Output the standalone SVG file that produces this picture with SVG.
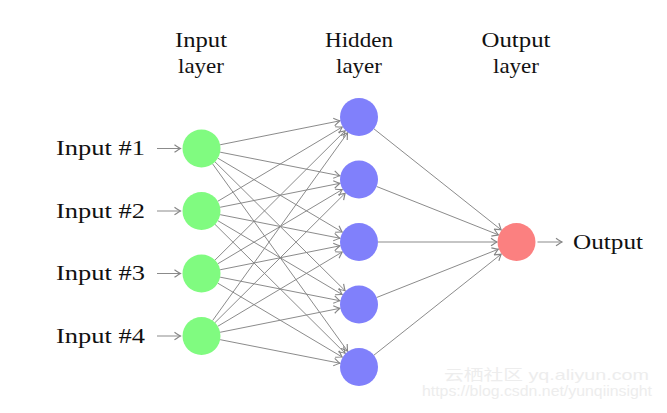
<svg xmlns="http://www.w3.org/2000/svg" width="667" height="413" viewBox="0 0 667 413">
<style>
.lbl{font-family:"Liberation Serif","DejaVu Serif",serif;font-size:22px;fill:#111111}
.hdr{font-family:"Liberation Serif","DejaVu Serif",serif;font-size:22px;fill:#111111;text-anchor:middle}
.edge{stroke:#858585;stroke-width:0.95;fill:none;marker-end:url(#to)}
.in{fill:#80fb80}
.hid{fill:#8080fb}
.out{fill:#fb8080}
.wm{font-family:"Liberation Sans","Noto Sans CJK SC",sans-serif;fill:#ededed}
</style>
<defs>
<marker id="to" markerUnits="userSpaceOnUse" markerWidth="12" markerHeight="12" viewBox="-6 -5 8 10" refX="0" refY="0" orient="auto" overflow="visible">
<path d="M-5,-3.2 Q-1.2,-0.6 0,0 Q-1.2,0.6 -5,3.2" stroke="#858585" stroke-width="0.95" fill="none"/>
</marker>
</defs>
<rect width="667" height="413" fill="#ffffff"/>
<g id="headers">
<text class="hdr" x="201" y="47" textLength="52" lengthAdjust="spacingAndGlyphs">Input</text>
<text class="hdr" x="201" y="73" textLength="46" lengthAdjust="spacingAndGlyphs">layer</text>
<text class="hdr" x="359" y="47" textLength="68" lengthAdjust="spacingAndGlyphs">Hidden</text>
<text class="hdr" x="359" y="73" textLength="46" lengthAdjust="spacingAndGlyphs">layer</text>
<text class="hdr" x="516" y="47" textLength="69" lengthAdjust="spacingAndGlyphs">Output</text>
<text class="hdr" x="516" y="73" textLength="46" lengthAdjust="spacingAndGlyphs">layer</text>
</g>
<g id="connectors">
<line class="edge" x1="157" y1="148.5" x2="180.5" y2="148.5"/>
<line class="edge" x1="157" y1="211" x2="180.5" y2="211"/>
<line class="edge" x1="157" y1="273.5" x2="180.5" y2="273.5"/>
<line class="edge" x1="157" y1="336" x2="180.5" y2="336"/>
<line class="edge" x1="220.13" y1="144.77" x2="339.88" y2="120.82"/>
<line class="edge" x1="220.14" y1="152.17" x2="339.87" y2="175.73"/>
<line class="edge" x1="217.84" y1="158.2" x2="342.23" y2="232.05"/>
<line class="edge" x1="215.0" y1="161.87" x2="345.15" y2="290.78"/>
<line class="edge" x1="212.61" y1="163.91" x2="347.6" y2="351.18"/>
<line class="edge" x1="217.82" y1="201.26" x2="342.26" y2="126.99"/>
<line class="edge" x1="220.13" y1="207.27" x2="339.88" y2="183.32"/>
<line class="edge" x1="220.14" y1="214.67" x2="339.87" y2="238.23"/>
<line class="edge" x1="217.84" y1="220.7" x2="342.23" y2="294.55"/>
<line class="edge" x1="215.0" y1="224.37" x2="345.15" y2="353.28"/>
<line class="edge" x1="214.98" y1="260.11" x2="345.17" y2="130.74"/>
<line class="edge" x1="217.82" y1="263.76" x2="342.26" y2="189.49"/>
<line class="edge" x1="220.13" y1="269.77" x2="339.88" y2="245.82"/>
<line class="edge" x1="220.14" y1="277.17" x2="339.87" y2="300.73"/>
<line class="edge" x1="217.84" y1="283.2" x2="342.23" y2="357.05"/>
<line class="edge" x1="212.59" y1="320.57" x2="347.61" y2="132.83"/>
<line class="edge" x1="214.98" y1="322.61" x2="345.17" y2="193.24"/>
<line class="edge" x1="217.82" y1="326.26" x2="342.26" y2="251.99"/>
<line class="edge" x1="220.13" y1="332.27" x2="339.88" y2="308.32"/>
<line class="edge" x1="220.14" y1="339.67" x2="339.87" y2="363.23"/>
<line class="edge" x1="373.88" y1="128.81" x2="501.23" y2="229.88"/>
<line class="edge" x1="376.66" y1="186.51" x2="498.38" y2="234.81"/>
<line class="edge" x1="378" y1="242" x2="497" y2="242"/>
<line class="edge" x1="376.66" y1="297.49" x2="498.38" y2="249.19"/>
<line class="edge" x1="373.88" y1="355.19" x2="501.23" y2="254.12"/>
<line class="edge" x1="537.5" y1="242" x2="562" y2="242"/>
</g>
<g id="input1"><text class="lbl" x="56" y="155" textLength="89" lengthAdjust="spacingAndGlyphs">Input #1</text><circle class="in" cx="201.5" cy="148.5" r="19"/></g>
<g id="input2"><text class="lbl" x="56" y="217.5" textLength="89" lengthAdjust="spacingAndGlyphs">Input #2</text><circle class="in" cx="201.5" cy="211" r="19"/></g>
<g id="input3"><text class="lbl" x="56" y="280" textLength="89" lengthAdjust="spacingAndGlyphs">Input #3</text><circle class="in" cx="201.5" cy="273.5" r="19"/></g>
<g id="input4"><text class="lbl" x="56" y="342.5" textLength="89" lengthAdjust="spacingAndGlyphs">Input #4</text><circle class="in" cx="201.5" cy="336" r="19"/></g>
<g id="hidden1"><circle class="hid" cx="359" cy="117" r="19"/></g>
<g id="hidden2"><circle class="hid" cx="359" cy="179.5" r="19"/></g>
<g id="hidden3"><circle class="hid" cx="359" cy="242" r="19"/></g>
<g id="hidden4"><circle class="hid" cx="359" cy="304.5" r="19"/></g>
<g id="hidden5"><circle class="hid" cx="359" cy="367" r="19"/></g>
<g id="output"><circle class="out" cx="516.5" cy="242" r="19"/><text class="lbl" x="573" y="248.5" textLength="70" lengthAdjust="spacingAndGlyphs">Output</text></g>
<g id="watermark">
<text class="wm" x="444" y="380" font-size="15" textLength="205" lengthAdjust="spacingAndGlyphs">云栖社区 yq.aliyun.com</text>
<text class="wm" x="422" y="396" font-size="14" textLength="230" lengthAdjust="spacingAndGlyphs">https://blog.csdn.net/yunqiinsight</text>
</g>
</svg>
